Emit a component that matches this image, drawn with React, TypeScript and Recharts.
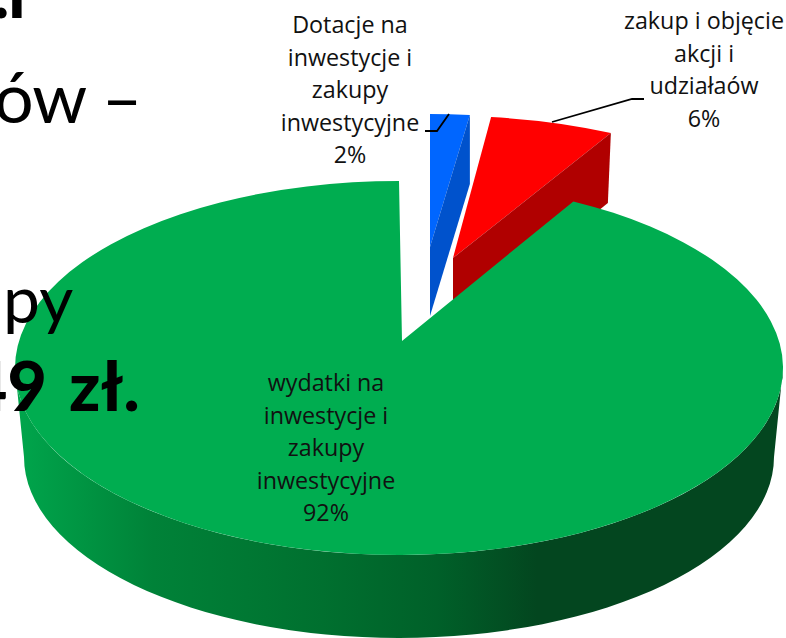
import { Pie, PieChart } from "recharts";

const categories = ["Dotacje na inwestycje i zakupy inwestycyjne", "zakup i objęcie akcji i udziałaów", "wydatki na inwestycje i zakupy inwestycyjne"];
const shares = [2, 6, 92];
const labelLines = [
  ["Dotacje na", "inwestycje i", "zakupy", "inwestycyjne"],
  ["zakup i objęcie", "akcji i", "udziałaów"],
  ["wydatki na", "inwestycje i", "zakupy", "inwestycyjne"],
];
const percentLabels = ["2%", "6%", "92%"];
const topColors = ["#0066ff", "#ff0000", "#00ad50"];
const wallColors = ["#0052cc", "#b00000", "url(#greenSide)"];

const chartData = categories.map((name, i) => ({ name, value: shares[i] }));

// flattened ellipse for every slice: apex, ellipse centre relative to apex, radii
const sliceGeometry = [
  { ax: 430, ay: 247, ox: 0, oy: 1, rx: 318, ry: 134, wallX: 0, wallY: 69, lean: 0 },
  { ax: 453, ay: 258, ox: -4, oy: -4, rx: 336, ry: 138, wallX: -3, wallY: 70, lean: 0 },
  // lean: the far edge of the big slice looks a little closer to the top in perspective
  { ax: 402, ay: 341, ox: -3, oy: 27, rx: 384, ry: 187, wallX: 0, wallY: 82, lean: 1.8 },
];
const labelPlaces = [
  { x: 350, y: 33 },
  { x: 704, y: 29 },
  { x: 326, y: 391 },
];
const leaderLines = ["425,131 437,131 449,114", "552,122 632,99 644,99", ""];

function Slice3D(props: any) {
  const i = shares.indexOf(props.value);
  const g = sliceGeometry[i];
  const a0 = ((90 - props.startAngle - g.lean) * Math.PI) / 180;
  const a1 = ((90 - props.endAngle) * Math.PI) / 180;
  const cx = g.ax + g.ox;
  const cy = g.ay + g.oy;
  const sx = cx + g.rx * Math.sin(a0);
  const sy = cy - g.ry * Math.cos(a0);
  const ex = cx + g.rx * Math.sin(a1);
  const ey = cy - g.ry * Math.cos(a1);
  const large = a1 - a0 > Math.PI ? 1 : 0;
  const top = `M${g.ax},${g.ay} L${sx},${sy} A${g.rx},${g.ry} 0 ${large} 1 ${ex},${ey} Z`;
  if (i === 2) {
    // big slice: only the front rim can be seen
    const bx = 399;
    const by = 457;
    const wall = `M${cx - g.rx},${cy} A${g.rx},${g.ry} 0 0 0 ${cx + g.rx},${cy} L${bx + 375},${by} A375,181 0 0 1 ${bx - 375},${by} Z`;
    return (
      <g>
        <path d={wall} fill={wallColors[i]} />
        <path d={top} fill={topColors[i]} />
      </g>
    );
  }
  const wall = `M${ex},${ey} L${g.ax},${g.ay} L${g.ax},${g.ay + g.wallY} L${ex + g.wallX},${ey + g.wallY} Z`;
  return (
    <g>
      <path d={top} fill={topColors[i]} />
      <path d={wall} fill={wallColors[i]} />
    </g>
  );
}

function SliceLabel(props: any) {
  const i = props.index;
  const p = labelPlaces[i];
  const lines = [...labelLines[i], percentLabels[i]];
  return (
    <g>
      {leaderLines[i] && <polyline points={leaderLines[i]} fill="none" stroke="#000" strokeWidth={1.8} />}
      <text x={p.x} y={p.y} textAnchor="middle" fontFamily="'Open Sans', sans-serif" fontSize={23.3} fill="#111">
        {lines.map((line, k) => (
          <tspan key={k} x={p.x} y={p.y + k * 32.5}>
            {line}
          </tspan>
        ))}
      </text>
    </g>
  );
}

const bigText: React.CSSProperties = {
  position: "absolute",
  fontFamily: "Lato, sans-serif",
  fontSize: 68,
  lineHeight: "70px",
  color: "#000",
  whiteSpace: "nowrap",
};

export default function App() {
  return (
    <div style={{ position: "absolute", left: 0, top: 0, width: 786, height: 638, overflow: "hidden", background: "#fff" }}>
      <PieChart width={786} height={638} margin={{ top: 0, right: 0, bottom: 0, left: 0 }}>
        <defs>
          <linearGradient id="greenSide" x1="0" y1="0" x2="1" y2="0">
            <stop offset="0" stopColor="#00a64c" />
            <stop offset="0.18" stopColor="#008238" />
            <stop offset="0.4" stopColor="#00702f" />
            <stop offset="0.55" stopColor="#006029" />
            <stop offset="0.68" stopColor="#03461f" />
            <stop offset="1" stopColor="#03461f" />
          </linearGradient>
        </defs>
        <Pie
          data={chartData}
          dataKey="value"
          nameKey="name"
          cx={402}
          cy={341}
          outerRadius={180}
          startAngle={90}
          endAngle={-270}
          stroke="none"
          isAnimationActive={false}
          shape={Slice3D}
          label={SliceLabel}
          labelLine={false}
        />
      </PieChart>
      <div style={{ ...bigText, fontWeight: 900, left: -7, top: -43, letterSpacing: -1 }}>.l</div>
      <div style={{ ...bigText, left: -6, top: 61, fontSize: 70, letterSpacing: -1 }}>ów –</div>
      <div style={{ ...bigText, left: 3, top: 263, fontSize: 66 }}>py</div>
      <div style={{ ...bigText, fontWeight: 900, left: -32, top: 350, wordSpacing: 6 }}>49 zł.</div>
    </div>
  );
}
